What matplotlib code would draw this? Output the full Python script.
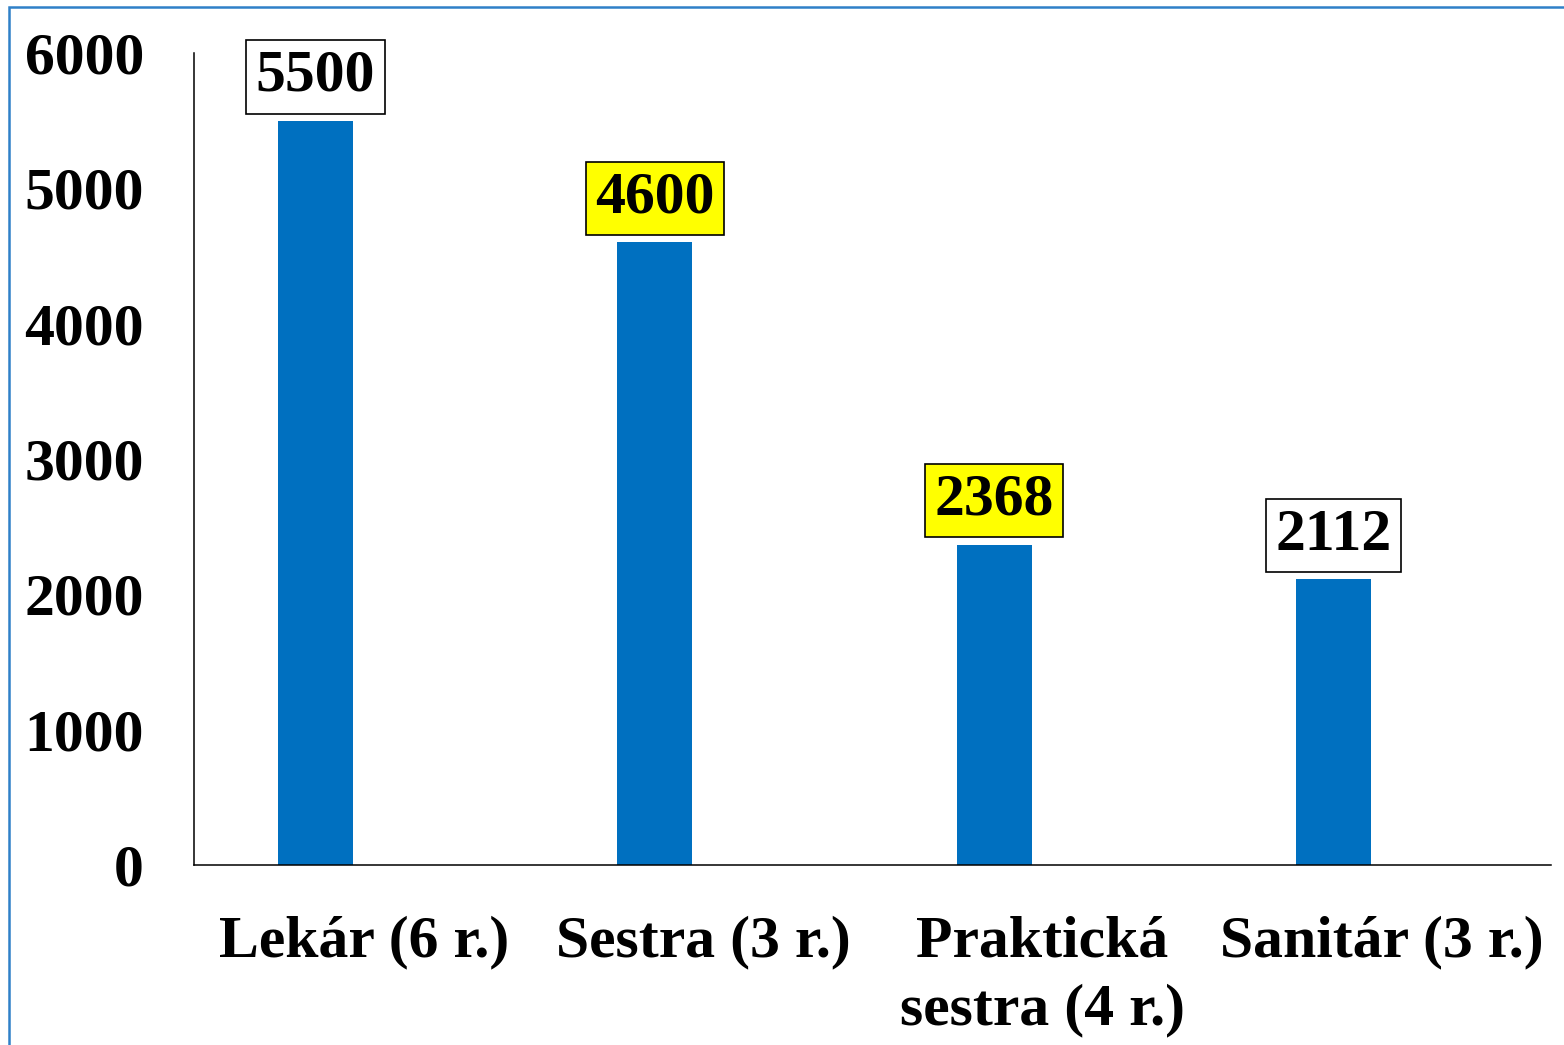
import matplotlib.pyplot as plt
from matplotlib.patches import Rectangle

plt.rcParams["font.family"] = ["Liberation Serif", "DejaVu Serif"]
plt.rcParams["font.weight"] = "bold"

categories = ["Lekár (6 r.)", "Sestra (3 r.)", "Praktická\nsestra (4 r.)", "Sanitár (3 r.)"]
values = [5500, 4600, 2368, 2112]
label_bg = ["white", "#FFFF00", "#FFFF00", "white"]
yticks = [0, 1000, 2000, 3000, 4000, 5000, 6000]

bar_color = "#0070C0"
offset = -0.142
width = 0.221

fig = plt.figure(figsize=(15.64, 10.45), dpi=100)
ax = fig.add_axes([0.124, 0.1722, 0.868, 0.7771])

pos = [i + offset for i in range(len(values))]
ax.bar(pos, values, width=width, color=bar_color)

for x, v, bg in zip(pos, values, label_bg):
    ax.annotate(str(v), (x, v), xytext=(0, 12), textcoords="offset points",
                ha="center", va="bottom", fontsize=43, fontweight="bold",
                bbox=dict(boxstyle="square,pad=0.16", fc=bg, ec="black", lw=1.2))

ax.set_xlim(-0.5, 3.5)
ax.set_ylim(0, 6000)
ax.set_yticks(yticks)
ax.set_yticklabels([str(t) for t in yticks], fontsize=43, fontweight="bold")
ax.set_xticks(range(len(categories)))
ax.set_xticklabels(categories, fontsize=43, fontweight="bold", linespacing=1.35, va="top")
ax.tick_params(axis="y", length=0, pad=36)
ax.tick_params(axis="x", length=0, pad=36)

for s in ["top", "right"]:
    ax.spines[s].set_visible(False)
ax.spines["left"].set_linewidth(1.1)
ax.spines["bottom"].set_linewidth(1.1)

# outer frame (only top and left edges visible in the picture)
fig.patches.append(Rectangle((9 / 1564, -0.1), 1.2, 1 - 7 / 1045 + 0.1,
                             transform=fig.transFigure, fill=False,
                             ec="#2F80C8", lw=1.8))

fig.savefig("out.png", dpi=100)
